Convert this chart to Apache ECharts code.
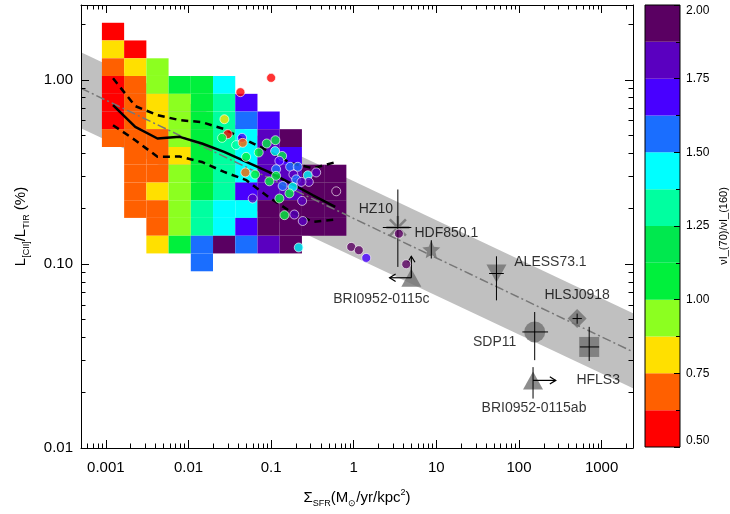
<!DOCTYPE html>
<html>
<head>
<meta charset="utf-8">
<script src="https://cdn.jsdelivr.net/npm/echarts@6/dist/echarts.min.js"></script>
<style>
  html, body { margin: 0; padding: 0; background: #fff; }
  #chart { width: 730px; height: 514px; }
</style>
</head>
<body>
<div id="chart"></div>
<script>
// ---------- colour scale: nuI(70)/nuI(160) ----------
const ratioEdges = [0.5, 0.625, 0.75, 0.875, 1.0, 1.125, 1.25, 1.375, 1.5, 1.625, 1.75, 1.875, 2.0];
const ratioColors = ['#ff0000', '#ff6000', '#ffe000', '#8cff20', '#00f03c', '#00e84e',
                     '#00ffa0', '#00ffff', '#1a6eff', '#4800ff', '#5a00c0', '#5a0062'];

// ---------- axis ticks ----------
const xMajor = [0.001, 0.01, 0.1, 1, 10, 100, 1000];
const xMajorText = ['0.001', '0.01', '0.1', '1', '10', '100', '1000'];
const yMajor = [0.01, 0.1, 1];
const yMajorText = ['0.01', '0.10', '1.00'];

// ---------- resolved-region histogram (log10 bin edges) ----------
const sfrEdgesLog = [-3.048, -2.779, -2.510, -2.241, -1.972, -1.703, -1.434, -1.165, -0.896, -0.627, -0.358, -0.089];
const ciiEdgesLog = [0.310, 0.214, 0.117, 0.021, -0.076, -0.172, -0.268, -0.365, -0.461, -0.558, -0.654, -0.750, -0.847, -0.943, -1.040];
// [column, row, mean ratio]
const histCells = [
  [0,0,0.56],[0,1,0.81],[0,2,0.69],[0,3,0.56],[0,4,0.56],[0,5,0.56],[0,6,0.69],
  [1,1,0.56],[1,2,0.81],[1,3,0.69],[1,4,0.69],[1,5,0.69],[1,6,0.69],[1,7,0.69],[1,8,0.69],[1,9,0.69],[1,10,0.69],
  [2,2,0.94],[2,3,0.94],[2,4,0.81],[2,5,0.81],[2,6,0.69],[2,7,0.69],[2,8,0.69],[2,9,0.81],[2,10,0.69],[2,11,0.69],[2,12,0.81],
  [3,3,1.06],[3,4,0.94],[3,5,0.94],[3,6,0.94],[3,7,0.81],[3,8,0.94],[3,9,0.94],[3,10,0.94],[3,11,0.94],[3,12,1.06],
  [4,3,1.06],[4,4,1.06],[4,5,1.06],[4,6,1.06],[4,7,1.06],[4,8,1.06],[4,9,1.06],[4,10,1.31],[4,11,1.31],[4,12,1.56],[4,13,1.56],
  [5,3,1.44],[5,4,1.31],[5,5,1.31],[5,6,1.31],[5,7,1.31],[5,8,1.31],[5,9,1.31],[5,10,1.44],[5,11,1.44],[5,12,1.94],
  [6,4,1.69],[6,5,1.56],[6,6,1.44],[6,7,1.44],[6,8,1.44],[6,9,1.69],[6,10,1.44],[6,11,1.69],[6,12,1.56],
  [7,5,1.69],[7,6,1.81],[7,7,1.81],[7,8,1.81],[7,9,1.81],[7,10,1.94],[7,11,1.94],[7,12,1.81],
  [8,6,1.94],[8,7,1.69],[8,8,1.81],[8,9,1.81],[8,10,1.94],[8,11,1.94],[8,12,1.94],
  [9,8,1.94],[9,9,1.94],[9,10,1.94],[9,11,1.94],
  [10,8,1.94],[10,9,1.94],[10,10,1.94],[10,11,1.94]
];

// running median and 16th/84th percentiles per histogram column
const medianCii = [0.729, 0.555, 0.480, 0.490, 0.451, 0.406, 0.358, 0.316, 0.274, 0.236, 0.204];
const upperCii  = [1.02, 0.72, 0.643, 0.604, 0.589, 0.540, 0.470, 0.410, 0.353, 0.331, 0.357];
const lowerCii  = [0.567, 0.470, 0.382, 0.383, 0.358, 0.316, 0.285, 0.231, 0.192, 0.169, 0.174];

// best fit and its scatter
const fitSfr   = [0.0005, 2400];
const fitCii   = [0.90, 0.0333];
const fitCiiHi = [1.41, 0.054];
const fitCiiLo = [0.546, 0.0211];

// ---------- individual galaxies ----------
const galSfr = [0.100, 0.0425, 0.0272, 0.0298, 0.0255, 0.0377, 0.0445, 0.0453, 0.0498, 0.0708,
                0.0885, 0.1128, 0.1117, 0.136, 0.126, 0.0488, 0.064, 0.115, 0.115, 0.0953,
                0.170, 0.210, 0.186, 0.201, 0.278, 0.351, 0.286, 0.233, 0.138, 0.183,
                0.1667, 0.126, 0.0598, 0.2375, 0.614, 0.145, 0.191, 0.2415, 0.216, 0.933,
                1.153, 1.418, 3.52, 4.32];
const galCii = [1.025, 0.857, 0.611, 0.507, 0.484, 0.442, 0.484, 0.455, 0.3815, 0.403,
                0.451, 0.470, 0.410, 0.386, 0.363, 0.314, 0.306, 0.327, 0.301, 0.281,
                0.337, 0.337, 0.306, 0.288, 0.303, 0.314, 0.279, 0.279, 0.265, 0.262,
                0.2415, 0.2267, 0.2267, 0.220, 0.248, 0.184, 0.1855, 0.171, 0.1228, 0.1237,
                0.1187, 0.1078, 0.146, 0.0996];
const galRatio = [0.56, 0.56, 0.81, 0.56, 1.06, 1.31, 1.69, 0.69, 1.06, 1.06,
                  1.06, 1.06, 1.44, 1.06, 1.69, 0.69, 1.06, 1.56, 1.06, 1.06,
                  1.56, 1.56, 1.81, 1.56, 1.44, 1.81, 1.81, 1.81, 1.56, 1.44,
                  1.06, 1.06, 1.81, 1.81, 1.94, 1.06, 1.81, 1.81, 1.44, 1.94,
                  1.94, 1.69, 1.94, 1.94];

// ---------- high-redshift sources ----------
const srcNames = ['HZ10', 'HDF850.1', 'BRI0952-0115c', 'ALESS73.1', 'HLSJ0918', 'SDP11', 'HFLS3', 'BRI0952-0115ab'];
const srcSfr   = [3.42, 8.69, 4.98, 53.4, 506, 155, 708, 148];
const srcCii   = [0.1577, 0.120, 0.0841, 0.0887, 0.0505, 0.0427, 0.0354, 0.0233];
const srcSfrLo = [2.25, null, null, 43.5, 445, 110, 546, null];
const srcSfrHi = [4.98, null, null, 65.5, 577, 225, 935, null];
const srcCiiLo = [0.0963, 0.107, null, 0.0634, 0.0473, 0.030, 0.0297, 0.01855];
const srcCiiHi = [0.2537, 0.1345, null, 0.110, 0.0537, 0.0548, 0.0455, 0.0275];
// limits: [from Σ, from L, to Σ, to L]
const limitArrows = [
  [4.98, 0.0841, 4.98, 0.110],
  [4.98, 0.0841, 2.72, 0.0841],
  [148, 0.0233, 279, 0.0233]
];

// ---------- drawing ----------
const FONT = "'Liberation Sans', Arial, Helvetica, sans-serif";
const GREY = '#707070';
const xMin = 0.0005, xMax = 2400, yMin = 0.01, yMax = 2.55;

function ratioColor(v) {
  for (let i = 0; i < ratioColors.length; i++) {
    if (v < ratioEdges[i + 1]) return ratioColors[i];
  }
  return ratioColors[ratioColors.length - 1];
}
function minorLogTicks(lo, hi) {
  const out = [];
  for (let e = -5; e <= 4; e++) {
    for (let m = 2; m <= 9; m++) {
      const v = m * Math.pow(10, e);
      if (v > lo && v < hi) out.push(v);
    }
  }
  return out;
}
const xMinor = minorLogTicks(xMin, xMax);
const yMinor = minorLogTicks(yMin, yMax);

const symbolStyle = {
  'HZ10':           { symbol: 'path://M0,10L20,10M10,0L10,20M3,3L17,17M17,3L3,17', size: 23, offset: [-22, -18], stroke: true },
  'HDF850.1':       { symbol: 'path://M10,0L12.9,6.9L20,7.6L14.6,12.2L16.2,19.2L10,15.5L3.8,19.2L5.4,12.2L0,7.6L7.1,6.9Z', size: 18, offset: [15, -16] },
  'BRI0952-0115c':  { symbol: 'triangle', size: [20, 18], offset: [-30, 21] },
  'ALESS73.1':      { symbol: 'triangle', size: [20, 18], rotate: 180, offset: [54, -11] },
  'HLSJ0918':       { symbol: 'diamond', size: [19, 19], offset: [0, -23] },
  'SDP11':          { symbol: 'circle', size: 21, offset: [-40, 10] },
  'HFLS3':          { symbol: 'rect', size: 20, offset: [9, 33] },
  'BRI0952-0115ab': { symbol: 'triangle', size: [20, 18], offset: [1, 28] }
};

function majorAxis(dim, gridIndex, position, ticks, showLabel, labelText, min, max) {
  return {
    type: 'log', gridIndex: gridIndex, position: position, min: min, max: max, z: 10,
    axisLine: { show: true, lineStyle: { color: '#000', width: 1 } },
    axisTick: { show: true, inside: true, length: 8, customValues: ticks, lineStyle: { color: '#000', width: 1 } },
    axisLabel: {
      show: showLabel, customValues: ticks, color: '#000', fontFamily: FONT, fontSize: 15,
      margin: dim === 'x' ? 12 : 8,
      formatter: function (v) {
        const k = Math.round(Math.log10(v)) - Math.round(Math.log10(ticks[0]));
        return labelText ? labelText[k] : '';
      }
    },
    splitLine: { show: false }, minorTick: { show: false }
  };
}
function minorAxis(gridIndex, position, ticks, min, max) {
  return {
    type: 'log', gridIndex: gridIndex, position: position, min: min, max: max, z: 10,
    axisLine: { show: false },
    axisTick: { show: true, inside: true, length: 4.5, customValues: ticks, lineStyle: { color: '#000', width: 1 } },
    axisLabel: { show: false },
    splitLine: { show: false }
  };
}

const xAxes = [
  Object.assign(majorAxis('x', 0, 'bottom', xMajor, true, xMajorText, xMin, xMax), {
    name: '{m|\u03a3}{s|SFR}{m|(M}{s|\u2299}{m|/yr/kpc}{p|2}{m|)}',
    nameLocation: 'middle', nameGap: 40,
    nameTextStyle: {
      color: '#000', fontFamily: FONT, fontSize: 15,
      rich: {
        m: { fontSize: 15, fontFamily: FONT, lineHeight: 20, color: '#000' },
        s: { fontSize: 9, fontFamily: FONT, lineHeight: 10, verticalAlign: 'bottom', color: '#000' },
        p: { fontSize: 9, fontFamily: FONT, lineHeight: 10, verticalAlign: 'top', color: '#000' }
      }
    }
  }),
  majorAxis('x', 0, 'top', xMajor, false, null, xMin, xMax),
  minorAxis(1, 'bottom', xMinor, xMin, xMax),
  minorAxis(1, 'top', xMinor, xMin, xMax),
  { type: 'category', gridIndex: 2, data: ['ratio'], show: false }
];
const yAxes = [
  Object.assign(majorAxis('y', 0, 'left', yMajor, true, yMajorText, yMin, yMax), {
    name: '{m|L}{s|[CII]}{m|/L}{s|TIR}{m| (%)}',
    nameLocation: 'middle', nameGap: 50, nameRotate: 90,
    nameTextStyle: {
      color: '#000', fontFamily: FONT, fontSize: 15,
      rich: {
        m: { fontSize: 15, fontFamily: FONT, lineHeight: 20, color: '#000' },
        s: { fontSize: 9, fontFamily: FONT, lineHeight: 10, verticalAlign: 'bottom', color: '#000' }
      }
    }
  }),
  majorAxis('y', 0, 'right', yMajor, false, null, yMin, yMax),
  minorAxis(1, 'left', yMinor, yMin, yMax),
  minorAxis(1, 'right', yMinor, yMin, yMax),
  {
    type: 'value', gridIndex: 2, position: 'right', min: 0.5, max: 2.0, interval: 0.25, z: 12,
    axisLine: { show: false },
    axisTick: { show: true, inside: true, length: 6, lineStyle: { color: '#000' } },
    minorTick: { show: true, splitNumber: 2, length: 4, lineStyle: { color: '#000' } },
    splitLine: { show: false },
    axisLabel: {
      color: '#000', fontFamily: FONT, fontSize: 12, margin: 6,
      verticalAlignMaxLabel: 'top', verticalAlignMinLabel: 'bottom',
      formatter: v => v.toFixed(2)
    },
    name: '\u03bdI_(70)/\u03bdI_(160)', nameLocation: 'middle', nameRotate: 90, nameGap: 38,
    nameTextStyle: { color: '#000', fontFamily: FONT, fontSize: 11 }
  }
];

const histData = histCells.map(([c, r, v]) => [
  Math.pow(10, sfrEdgesLog[c]), Math.pow(10, ciiEdgesLog[r]),
  Math.pow(10, sfrEdgesLog[c + 1]), Math.pow(10, ciiEdgesLog[r + 1]), v
]);
const sfrCentres = sfrEdgesLog.slice(0, -1).map((e, i) => Math.pow(10, (e + sfrEdgesLog[i + 1]) / 2));
const pairs = (xs, ys) => xs.map((x, i) => [x, ys[i]]);

const series = [
  { // scatter band around the fit
    type: 'custom', xAxisIndex: 0, yAxisIndex: 0, z: 1, silent: true,
    data: fitSfr.map((x, i) => [x, fitCiiHi[i], fitCiiLo[i]]),
    encode: { x: 0, y: [1, 2] },
    renderItem: function (params, api) {
      const i = params.dataIndexInside;
      if (i >= params.dataInsideLength - 1) return { type: 'group', children: [] };
      const a = [api.value(0, i), api.value(1, i), api.value(2, i)];
      const b = [api.value(0, i + 1), api.value(1, i + 1), api.value(2, i + 1)];
      return {
        type: 'polygon',
        shape: { points: [api.coord([a[0], a[1]]), api.coord([b[0], b[1]]), api.coord([b[0], b[2]]), api.coord([a[0], a[2]])] },
        style: { fill: '#c0c0c0' }
      };
    }
  },
  { // resolved-region histogram
    type: 'custom', xAxisIndex: 0, yAxisIndex: 0, z: 2, silent: true,
    data: histData,
    encode: { x: [0, 2], y: [1, 3] },
    renderItem: function (params, api) {
      const p0 = api.coord([api.value(0), api.value(1)]);
      const p1 = api.coord([api.value(2), api.value(3)]);
      return {
        type: 'rect',
        shape: { x: p0[0], y: p0[1], width: p1[0] - p0[0], height: p1[1] - p0[1] },
        style: { fill: ratioColor(api.value(4)) }
      };
    }
  },
  { // best fit
    type: 'line', xAxisIndex: 0, yAxisIndex: 0, z: 3, symbol: 'none', silent: true,
    data: pairs(fitSfr, fitCii),
    lineStyle: { color: '#777', width: 1.5, type: [9, 3, 2, 3] }
  },
  {
    type: 'line', xAxisIndex: 0, yAxisIndex: 0, z: 4, symbol: 'none', silent: true,
    data: pairs(sfrCentres, medianCii),
    lineStyle: { color: '#000', width: 2.5 }
  },
  {
    type: 'line', xAxisIndex: 0, yAxisIndex: 0, z: 4, symbol: 'none', silent: true,
    data: pairs(sfrCentres, upperCii),
    lineStyle: { color: '#000', width: 2.5, type: [7, 5] }
  },
  {
    type: 'line', xAxisIndex: 0, yAxisIndex: 0, z: 4, symbol: 'none', silent: true,
    data: pairs(sfrCentres, lowerCii),
    lineStyle: { color: '#000', width: 2.5, type: [7, 5] }
  },
  { // high-z sources
    type: 'scatter', xAxisIndex: 0, yAxisIndex: 0, z: 5, silent: true,
    data: srcNames.map((n, i) => {
      const s = symbolStyle[n];
      return {
        value: [srcSfr[i], srcCii[i]],
        symbol: s.symbol, symbolSize: s.size, symbolRotate: s.rotate || 0,
        itemStyle: s.stroke ? { color: GREY, borderColor: GREY, borderWidth: 2.5 } : { color: GREY },
        label: {
          show: true, position: 'inside', offset: s.offset, formatter: n,
          color: '#000', fontFamily: FONT, fontSize: 14, textBorderWidth: 0
        }
      };
    })
  },
  { // error bars
    type: 'custom', xAxisIndex: 0, yAxisIndex: 0, z: 6, silent: true,
    data: pairs(srcSfr, srcCii),
    renderItem: function (params, api) {
      const i = params.dataIndex;
      const kids = [];
      const st = { stroke: '#000', lineWidth: 1 };
      if (srcSfrLo[i] !== null) {
        const a = api.coord([srcSfrLo[i], srcCii[i]]), b = api.coord([srcSfrHi[i], srcCii[i]]);
        kids.push({ type: 'line', shape: { x1: a[0], y1: a[1], x2: b[0], y2: b[1] }, style: st });
      }
      if (srcCiiLo[i] !== null) {
        const a = api.coord([srcSfr[i], srcCiiLo[i]]), b = api.coord([srcSfr[i], srcCiiHi[i]]);
        kids.push({ type: 'line', shape: { x1: a[0], y1: a[1], x2: b[0], y2: b[1] }, style: st });
      }
      return { type: 'group', children: kids };
    }
  },
  { // limit arrows
    type: 'custom', xAxisIndex: 0, yAxisIndex: 0, z: 6, silent: true,
    data: limitArrows,
    encode: { x: [0, 2], y: [1, 3] },
    renderItem: function (params, api) {
      const a = api.coord([api.value(0), api.value(1)]);
      const b = api.coord([api.value(2), api.value(3)]);
      const ang = Math.atan2(b[1] - a[1], b[0] - a[0]);
      const h = 7, w = 0.55;
      const p1 = [b[0] - h * Math.cos(ang - w), b[1] - h * Math.sin(ang - w)];
      const p2 = [b[0] - h * Math.cos(ang + w), b[1] - h * Math.sin(ang + w)];
      const st = { stroke: '#000', lineWidth: 1.2, fill: null };
      return {
        type: 'group', children: [
          { type: 'line', shape: { x1: a[0], y1: a[1], x2: b[0], y2: b[1] }, style: st },
          { type: 'polyline', shape: { points: [p1, b, p2] }, style: st }
        ]
      };
    }
  },
  { // individual galaxies
    type: 'scatter', xAxisIndex: 0, yAxisIndex: 0, z: 7, silent: true,
    symbolSize: 9,
    data: galSfr.map((x, i) => ({
      value: [x, galCii[i]],
      itemStyle: { color: ratioColor(galRatio[i]), borderColor: '#fff', borderWidth: 0.8 }
    }))
  },
  { // colour bar
    type: 'custom', xAxisIndex: 4, yAxisIndex: 4, z: 2, silent: true,
    data: ratioColors.map((c, i) => [0, ratioEdges[i], ratioEdges[i + 1]]),
    encode: { x: 0, y: [1, 2] },
    renderItem: function (params, api) {
      const lo = api.coord([0, api.value(1)]);
      const hi = api.coord([0, api.value(2)]);
      const w = api.size([1, 0])[0];
      return {
        type: 'rect',
        shape: { x: lo[0] - w / 2, y: hi[1], width: w, height: lo[1] - hi[1] },
        style: { fill: ratioColors[params.dataIndex] }
      };
    }
  }
];

const option = {
  animation: false,
  backgroundColor: '#ffffff',
  grid: [
    { left: 81, right: 97, top: 5, bottom: 66 },
    { left: 81, right: 97, top: 5, bottom: 66 },
    { left: 645, right: 45, top: 5, bottom: 67, show: true, z: 11,
      borderColor: '#000', borderWidth: 1, backgroundColor: 'rgba(0,0,0,0)' }
  ],
  xAxis: xAxes,
  yAxis: yAxes,
  series: series
};

const chart = echarts.init(document.getElementById('chart'));
chart.setOption(option);
</script>
</body>
</html>
